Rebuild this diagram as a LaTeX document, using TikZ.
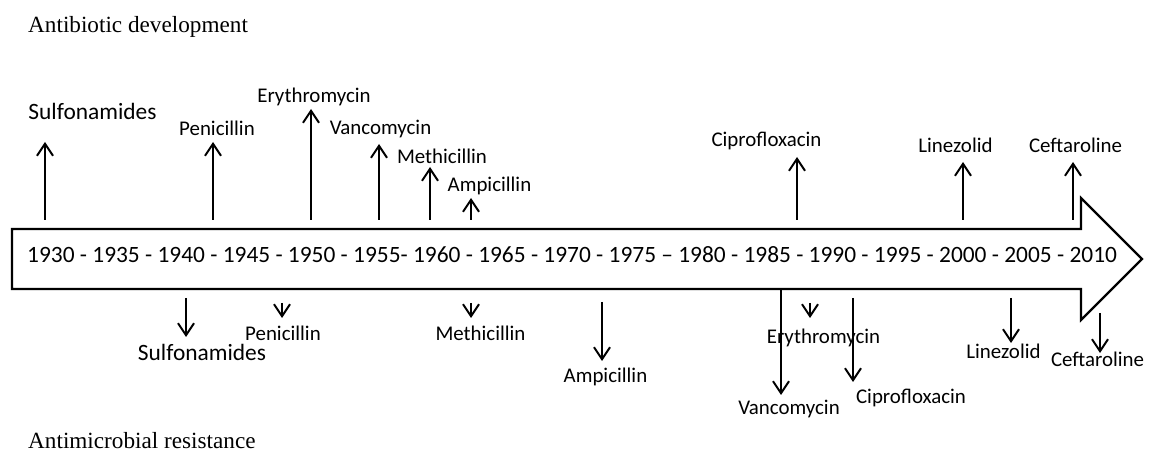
\documentclass[tikz,border=0pt]{standalone}
\usepackage{fontspec}
\setmainfont{Liberation Serif}
\newfontfamily\calibri{Carlito}
\usetikzlibrary{arrows.meta}
\begin{document}
\begin{tikzpicture}[x=1pt,y=-1pt]
        \tikzset{drug/.style = {font=\calibri\fontsize{20.9}{25}\selectfont, anchor=base, inner sep=0pt}};
        \tikzset{bigdrug/.style = {drug, font=\calibri\fontsize{23.4}{28}\selectfont}};
        \tikzset{heading/.style = {font=\fontsize{23.2}{28}\selectfont, anchor=base west, inner sep=0pt}};
        \tikzset{edge/.style = {->, > = {Straight Barb[length=12pt,width=16pt]}, line width=2pt}};
        \useasboundingbox (0,0) rectangle (1152,454);
        % timeline
        \draw[line width=2.2pt] (12,229) -- (1081,229) -- (1081,198) -- (1142,259) -- (1081,320) -- (1081,289) -- (12,289) -- cycle;
        \node[bigdrug] (years) at (572,263) {1930 - 1935 - 1940 - 1945 - 1950 - 1955- 1960 - 1965 - 1970 - 1975 – 1980 - 1985 - 1990 - 1995 - 2000 - 2005 - 2010};
        \node[heading] (dev) at (28,33) {Antibiotic development};
        \node[heading] (res) at (28,448) {Antimicrobial resistance};
        % development
        \node[bigdrug] (sulU) at (92.5,120) {Sulfonamides};
        \node[drug] (penU) at (217,136) {Penicillin};
        \node[drug] (eryU) at (314,103) {Erythromycin};
        \node[drug] (vanU) at (380.5,135) {Vancomycin};
        \node[drug] (metU) at (442,164) {Methicillin};
        \node[drug] (ampU) at (489.5,192) {Ampicillin};
        \node[drug] (cipU) at (766.5,147) {Ciprofloxacin};
        \node[drug] (linU) at (955.5,153) {Linezolid};
        \node[drug] (cefU) at (1075.5,153) {Ceftaroline};
        \foreach \n/\x/\ya/\yb in {sulU/45/220/142, penU/213/220/142, eryU/311/220/109,
                vanU/379/220/144, metU/430/220/167, ampU/471/220/198,
                cipU/797/220/157, linU/963/220/162, cefU/1073/220/162}
        {
            \coordinate (\n-from) at (\x,\ya);
            \coordinate (\n-to) at (\x,\yb);
            \draw[edge] (\n-from) to (\n-to);
        }
        % resistance
        \node[bigdrug] (sulD) at (202,361) {Sulfonamides};
        \node[drug] (penD) at (283,341) {Penicillin};
        \node[drug] (metD) at (480.5,341) {Methicillin};
        \node[drug] (ampD) at (605.5,383) {Ampicillin};
        \node[drug] (vanD) at (789,414) {Vancomycin};
        \node[drug] (eryD) at (823.5,344) {Erythromycin};
        \node[drug] (cipD) at (911,404) {Ciprofloxacin};
        \node[drug] (linD) at (1003.5,359) {Linezolid};
        \node[drug] (cefD) at (1097.5,367) {Ceftaroline};
        \foreach \n/\x/\ya/\yb in {sulD/186/298/337, penD/282/303/318, metD/471/303/318,
                ampD/602/302/361, vanD/781/289/395, eryD/810/303/318,
                cipD/853/298/382, linD/1011/298/343, cefD/1100/313/353}
        {
            \coordinate (\n-from) at (\x,\ya);
            \coordinate (\n-to) at (\x,\yb);
            \draw[edge] (\n-from) to (\n-to);
        }
    \end{tikzpicture}
\end{document}
